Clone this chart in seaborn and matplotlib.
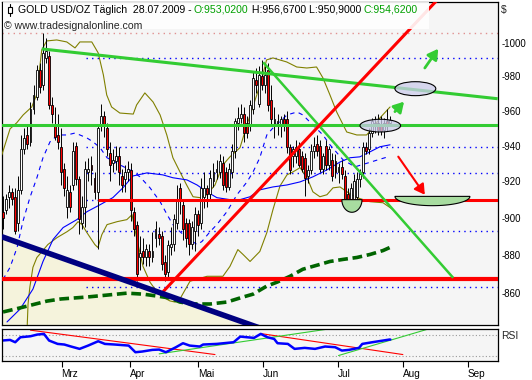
import numpy as np
import matplotlib
matplotlib.use('Agg')
import matplotlib.pyplot as plt
import matplotlib.ticker as ticker
from matplotlib.patches import Ellipse, Polygon, Rectangle
import seaborn as sns

# daily gold candles, bar 0 = 2 Feb 2009 ... last bar = 28 Jul 2009
opens = [910, 903, 904, 911, 914, 911, 897, 915, 938, 946, 942, 961, 968, 984, 975, 991, 992, 963, 951, 946,
         939, 927, 906, 914, 918, 940, 921, 897, 906, 925, 929, 922, 914, 951, 957, 950, 936, 930, 931, 934,
         923, 921, 925, 926, 903, 896, 879, 882, 879, 882, 879, 889, 891, 890, 876, 871, 884, 886, 897, 916,
         907, 897, 897, 886, 893, 902, 897, 911, 916, 913, 920, 925, 925, 930, 925, 917, 925, 937, 953, 956,
         958, 953, 952, 961, 978, 964, 980, 975, 984, 966, 952, 953, 952, 955, 955, 939, 934, 934, 938, 934,
         933, 923, 926, 937, 941, 940, 927, 940, 929, 932, 931, 925, 928, 923, 913, 910, 910, 911, 921, 925,
         939, 938, 947, 952, 953, 952, 949, 954, 953.02]
highs = [916, 912, 913, 918, 916, 916, 923, 946, 950, 952, 965, 975, 987, 988, 1006, 1003, 995, 968, 962, 958,
         950, 930, 923, 918, 942, 942, 923, 912, 931, 933, 934, 925, 952, 964, 960, 953, 942, 938, 940, 939,
         927, 929, 931, 930, 906, 898, 890, 889, 886, 886, 892, 898, 895, 893, 880, 888, 895, 902, 918, 919,
         910, 900, 899, 898, 906, 904, 922, 925, 918, 926, 930, 932, 935, 934, 928, 930, 941, 956, 962, 964,
         962, 957, 966, 983, 985, 986, 990, 986, 988, 975, 962, 958, 957, 958, 960, 941, 940, 943, 942, 937,
         936, 929, 941, 945, 946, 943, 936, 943, 940, 936, 935, 930, 932, 926, 916, 919, 924, 925, 927, 942,
         942, 950, 956, 957, 958, 957, 956, 961, 956.67]
lows = [898, 894, 902, 905, 907, 891, 893, 913, 935, 938, 940, 958, 966, 970, 972, 988, 961, 953, 943, 938,
        918, 912, 900, 903, 915, 918, 891, 894, 895, 920, 918, 910, 883, 948, 945, 934, 920, 925, 926, 918,
        914, 914, 920, 898, 890, 866, 872, 875, 874, 874, 876, 884, 885, 872, 866, 868, 880, 882, 894, 902,
        888, 884, 880, 883, 882, 890, 894, 905, 906, 910, 917, 921, 922, 915, 914, 915, 922, 933, 949, 953,
        942, 944, 948, 958, 970, 962, 972, 970, 960, 952, 944, 946, 945, 948, 936, 924, 928, 930, 928, 925,
        912, 919, 924, 933, 934, 925, 924, 926, 926, 920, 922, 919, 921, 906, 905, 906, 908, 909, 917, 922,
        935, 935, 945, 947, 946, 946, 944, 948, 950.90]
closes = [903, 900, 910, 914, 910, 893, 915, 938, 944, 941, 961, 969, 984, 974, 994, 995, 963, 958, 945, 942,
          925, 916, 915, 906, 937, 921, 899, 906, 927, 927, 926, 914, 950, 957, 951, 938, 929, 932, 934, 925,
          918, 925, 927, 904, 894, 870, 881, 879, 883, 879, 882, 894, 889, 875, 870, 885, 886, 899, 910, 910,
          894, 889, 886, 895, 902, 896, 916, 916, 913, 922, 925, 927, 931, 918, 917, 927, 937, 954, 956, 958,
          947, 947, 963, 979, 975, 981, 975, 981, 963, 955, 955, 954, 955, 952, 939, 926, 938, 939, 929, 927,
          922, 926, 937, 940, 937, 927, 934, 929, 938, 923, 925, 928, 924, 910, 910, 916, 920, 921, 924, 939,
          937, 947, 954, 953, 949, 948, 953, 951, 954.62]

# indicator lines as (bar, price) points
bb_upper_x = [0.6, 3.3, 5.5, 7.6, 10.4, 12.0, 13.7, 15.3, 18.6, 21.9, 24.6, 26.2, 30.1, 32.2, 33.9, 35.0, 36.6,
              39.3, 43.7, 44.8, 47.5, 50.2, 52.5, 54.7, 56.7, 59.0, 61.2, 63.3, 65.6, 67.8, 70.5, 73.1, 75.4,
              78.7, 81.3, 84.2, 86.2, 87.4, 89.5, 94.0, 97.3, 100.6, 103.8, 105.9, 108.2, 110.4, 113.7, 117.0,
              120.2, 122.3, 124.6, 127.9]
bb_upper_y = [934.7, 949.5, 953.0, 957.5, 962.1, 969.1, 995.8, 1001.2, 1001.8, 1000.6, 997.0, 1000.6, 1000.6,
              994.0, 980.9, 969.1, 962.1, 958.6, 958.0, 963.3, 970.3, 965.0, 957.5, 946.0, 933.1, 925.2, 917.9,
              911.4, 910.9, 912.5, 917.9, 929.1, 933.6, 938.8, 953.5, 969.1, 980.9, 989.8, 991.0, 988.6, 985.6,
              985.0, 985.6, 979.1, 969.1, 959.2, 947.7, 946.0, 946.0, 950.0, 955.8, 962.1]
bb_lower_x = [8.8, 9.2, 9.8, 10.8, 12.1, 13.8, 15.7, 18.7, 22.0, 23.9, 25.6, 26.9, 28.5, 31.1, 32.1, 33.4, 35.1,
              38.4, 41.6, 43.3, 44.9, 46.9, 49.2, 51.5, 53.4, 55.7, 57.4, 59.0, 62.3, 67.9, 73.1, 75.4, 78.0,
              79.7, 82.0, 85.2, 87.5, 89.5, 91.8, 94.1, 96.1, 98.4, 100.7, 102.6, 104.9, 107.2, 109.2, 111.5,
              113.8, 117.0, 121.3, 125.6, 128.9]
bb_lower_y = [838.0, 854.3, 863.1, 873.4, 878.6, 881.8, 885.5, 889.2, 892.4, 894.6, 897.8, 896.2, 891.9, 885.5,
              883.9, 890.8, 896.2, 897.8, 898.9, 901.6, 888.2, 873.9, 865.6, 860.5, 857.9, 855.9, 855.3, 856.9,
              866.1, 868.7, 868.7, 873.9, 882.8, 880.2, 876.5, 881.8, 891.9, 904.3, 917.3, 923.5, 925.2, 927.5,
              921.9, 914.1, 911.4, 912.5, 916.3, 916.8, 914.1, 910.9, 908.7, 908.1, 904.3]
ma_blue_x = [2.3, 6.6, 10.8, 14.1, 17.4, 20.7, 25.2, 28.5, 32.8, 37.0, 40.3, 43.6, 48.2, 53.4, 56.7, 61.3, 64.6,
             67.9, 71.1, 75.4, 78.7, 82.0, 85.2, 89.5, 94.1, 98.4, 102.6, 107.2, 111.5, 114.8, 118.0, 121.3,
             124.6, 127.9]
ma_blue_y = [845.1, 851.7, 862.0, 876.5, 888.2, 894.6, 898.9, 903.2, 907.0, 910.9, 916.3, 922.9, 924.6, 923.5,
             921.9, 920.7, 917.9, 914.1, 910.9, 909.8, 909.8, 911.4, 915.2, 916.8, 917.9, 919.6, 922.4, 926.3,
             930.7, 933.1, 933.6, 936.4, 939.3, 940.4]
ma_dash_x = [1.0, 3.3, 5.6, 7.5, 9.8, 12.1, 14.1, 16.4, 19.0, 22.0, 24.6, 26.2, 28.5, 30.5, 32.8, 35.1, 39.3,
             42.6, 45.9, 49.2, 52.5, 54.8, 56.7, 59.0, 61.3, 64.6, 66.2, 68.9, 71.1, 74.4, 77.7, 81.0, 83.0,
             85.2, 86.2, 87.5, 89.5, 94.1, 97.4, 99.3, 102.6, 105.9, 108.2, 112.5, 116.4, 120.7, 123.9, 127.2]
ma_dash_y = [867.1, 873.4, 883.9, 897.8, 910.9, 921.9, 933.1, 942.1, 946.0, 946.0, 947.1, 946.0, 944.3, 942.1,
             938.8, 933.1, 929.1, 926.3, 922.4, 916.3, 908.7, 901.6, 896.2, 892.4, 889.2, 885.5, 887.1, 892.4,
             896.2, 903.2, 912.5, 919.6, 925.2, 933.1, 938.8, 946.0, 950.0, 957.5, 959.2, 957.5, 951.7, 946.0,
             940.4, 931.9, 928.0, 930.2, 931.9, 933.6]
ma_long_x = [1.0, 6.6, 15.4, 20.0, 28.5, 35.1, 41.6, 46.9, 51.5, 55.7, 59.0, 63.3, 68.9, 74.4, 79.7, 83.0, 87.5,
             90.8, 95.1, 99.3, 103.9, 108.2, 112.5, 117.0, 121.3, 125.6, 128.5]
ma_long_y = [850.2, 852.3, 855.8, 856.9, 857.9, 858.9, 859.9, 859.4, 858.4, 857.4, 855.3, 854.3, 854.3, 855.3,
             857.9, 859.4, 863.6, 865.6, 868.7, 872.4, 874.5, 876.5, 877.6, 878.6, 880.2, 882.3, 884.4]

# RSI panel
rsi_x = [0.6, 3.3, 5.0, 6.7, 10.0, 12.2, 14.4, 16.1, 18.9, 21.1, 23.3, 26.1, 28.9, 32.2, 34.4, 37.7, 42.2, 44.4,
         46.6, 50.0, 52.2, 54.4, 57.7, 60.0, 62.2, 65.5, 66.6, 71.1, 76.6, 78.8, 81.0, 83.3, 85.5, 87.7, 89.9,
         91.0, 94.4, 96.6, 99.9, 103.3, 106.6, 109.9, 112.1, 114.4, 117.7, 118.8, 122.1, 127.7, 128.0]
rsi_y = [58.6, 59.8, 55.4, 64.9, 66.8, 70.0, 71.3, 58.6, 52.2, 51.0, 47.2, 42.7, 49.0, 57.3, 52.2, 51.0, 49.0,
         36.3, 37.6, 40.8, 41.4, 36.3, 45.9, 53.5, 49.0, 47.2, 51.0, 52.2, 55.4, 66.2, 64.9, 63.7, 71.3, 64.9,
         61.7, 53.5, 52.2, 42.7, 44.6, 42.7, 47.2, 45.9, 39.5, 40.8, 44.6, 52.2, 55.4, 60.5, 60.5]
rsi_red_lines = [((10.0, 78.4), (70.5, 31.9)), ((85.5, 71.9), (132.1, 31.9))]
rsi_green_lines = [((52.2, 33.2), (106.6, 79.7)), ((111.0, 30.0), (139.9, 79.7))]

# drawn trend lines and levels (bar, price)
green_level = 951.7
red_levels = [867.1, 909.8]
blue_dotted_levels = [990.9, 939.4, 924.6, 909.8, 892.6, 863.2]
pink_level = 1006.1
green_trend1 = ((13.7, 996.4), (163.2, 966.9))
green_trend2 = ((86.3, 988.4), (148.6, 867.9))
red_trend = ((53.5, 860.7), (143.5, 1026.5))
navy_trend = ((0.56, 889.7), (85.2, 842.0))

month_pos = [20.2, 42.5, 65.0, 86.3, 110.7, 132.1, 153.4]
month_lbl = ['Mrz', 'Apr', 'Mai', 'Jun', 'Jul', 'Aug', 'Sep']
price_ticks = [860, 880, 900, 920, 940, 960, 980, 1000]

sns.set_style('white')
plt.rcParams['font.family'] = ['Liberation Sans', 'DejaVu Sans']
plt.rcParams['font.size'] = 7.5

W, H = 532, 380
fig = plt.figure(figsize=(W / 100, H / 100), dpi=100)
fig.patch.set_facecolor('white')
ax = fig.add_axes([2 / W, 1 - 324.5 / H, 495.7 / W, 322.5 / H])
ax_rsi = fig.add_axes([2 / W, 1 - 361.3 / H, 495.7 / W, 32.8 / H])
x_lo, x_hi = 0.66, 163.2

ax.set_yscale('log')
ax.set_facecolor('#F5F5F5')
ax_rsi.set_facecolor('#F5F5F5')

# beige area under the long blue trend line
ax.fill_between([navy_trend[0][0], navy_trend[1][0]], [navy_trend[0][1], navy_trend[1][1]], 800,
                color='#F5F3DC', lw=0, zorder=1)

# dotted levels
ax.hlines(blue_dotted_levels, 28.2, x_hi, colors='#0000FF', lw=1, linestyles=(0, (1, 3)), zorder=2)
ax.axhline(pink_level, color='#E09090', lw=1, ls=(0, (1, 3)), zorder=2)

# bands and averages
sns.lineplot(x=bb_upper_x, y=bb_upper_y, ax=ax, color='#808000', lw=0.8, zorder=3)
sns.lineplot(x=bb_lower_x, y=bb_lower_y, ax=ax, color='#808000', lw=0.8, zorder=3)
sns.lineplot(x=ma_blue_x, y=ma_blue_y, ax=ax, color='#0000FF', lw=0.8, zorder=3)
ax.plot(ma_dash_x, ma_dash_y, color='#0000FF', lw=0.8, dashes=(4, 4), zorder=3)
ax.plot(ma_long_x, ma_long_y, color='#006400', lw=2.6, dashes=(2.7, 1.3), zorder=3)

# candles
o = np.array(opens, dtype=float)
h = np.array(highs, dtype=float)
l = np.array(lows, dtype=float)
c = np.array(closes, dtype=float)
xs = np.arange(len(c))
up = c >= o
body_lo = np.minimum(o, c)
body_h = np.maximum(np.abs(c - o), 0.5)
ax.vlines(xs, l, h, color='black', lw=0.7, zorder=4)
ax.bar(xs[up], body_h[up], bottom=body_lo[up], width=0.62, color='white', edgecolor='black', lw=0.6, zorder=5)
ax.bar(xs[~up], body_h[~up], bottom=body_lo[~up], width=0.62, color='#FF0000', edgecolor='black', lw=0.6, zorder=5)

# trend lines
ax.axhline(green_level, color='#33CC33', lw=2.2, zorder=6)
ax.axhline(red_levels[0], color='#FF0000', lw=3.0, zorder=6)
ax.hlines(red_levels[1], 32.2, x_hi, color='#FF0000', lw=2.2, zorder=6)
for (p0, p1), col, lw in [(green_trend1, '#33CC33', 2.2), (green_trend2, '#33CC33', 1.8),
                          (red_trend, '#FF0000', 2.2), (navy_trend, '#000080', 4.0)]:
    ax.plot([p0[0], p1[0]], [p0[1], p1[1]], color=col, lw=lw, solid_capstyle='butt', zorder=6)

# annotations
for cx, cy, w, hh in [(124.7, 951.35, 13.3, 7.3), (136.2, 972.8, 13.4, 8.2)]:
    ax.add_patch(Ellipse((cx, cy), w, hh, facecolor=(0.8, 0.8, 0.92, 0.75), edgecolor='black', lw=0.8, zorder=7))
t = np.linspace(0, np.pi, 40)
for cx, a, top, bot in [(115.4, 3.3, 909.8, 902.9), (141.8, 12.3, 911.6, 906.5)]:
    pts = np.column_stack([cx + a * np.cos(t), top - (top - bot) * np.sin(t)])
    ax.add_patch(Polygon(pts, closed=True, facecolor='#A8DCA0', edgecolor='black', lw=0.8, zorder=7))
arrow_kw = dict(arrowstyle='-|>,head_width=0.35,head_length=0.6', mutation_scale=10, shrinkA=0, shrinkB=0)
ax.annotate('', xy=(143.7, 996.5), xytext=(139.3, 985.0),
            arrowprops=dict(color='#33CC33', lw=2, **arrow_kw), zorder=7)
ax.annotate('', xy=(132.5, 965.2), xytext=(129.5, 959.4),
            arrowprops=dict(color='#33CC33', lw=2, **arrow_kw), zorder=7)
ax.annotate('', xy=(139.3, 912.5), xytext=(130.6, 933.7),
            arrowprops=dict(color='#FF0000', lw=1.5, **arrow_kw), zorder=7)

ax.set_xlim(x_lo, x_hi)
ax.set_ylim(843.8, 1025)
ax.yaxis.tick_right()
ax.yaxis.set_major_locator(ticker.FixedLocator(price_ticks))
ax.yaxis.set_minor_locator(ticker.NullLocator())
ax.yaxis.set_major_formatter(ticker.FuncFormatter(lambda v, _: f'-{v:.0f}'))
ax.tick_params(axis='y', length=0, pad=3, labelsize=6.9, colors='black')
ax.tick_params(axis='x', bottom=False, labelbottom=False)
ax.set_xlabel('')
ax.set_ylabel('')

# RSI
ax_rsi.axhline(70, color='#999999', lw=0.8, ls=(0, (1, 2)))
ax_rsi.axhline(30, color='#999999', lw=0.8, ls=(0, (1, 2)))
for (p0, p1) in rsi_red_lines:
    ax_rsi.plot([p0[0], p1[0]], [p0[1], p1[1]], color='#FF0000', lw=0.8)
for (p0, p1) in rsi_green_lines:
    ax_rsi.plot([p0[0], p1[0]], [p0[1], p1[1]], color='#33CC33', lw=0.8)
sns.lineplot(x=rsi_x, y=rsi_y, ax=ax_rsi, color='#0000FF', lw=1.8)
ax_rsi.set_xlim(x_lo, x_hi)
ax_rsi.set_ylim(19, 81.6)
ax_rsi.set_yticks([])
ax_rsi.set_xticks(month_pos)
ax_rsi.set_xticklabels(month_lbl)
ax_rsi.tick_params(axis='x', bottom=True, direction='out', length=4.5, width=0.8, pad=1, labelsize=7.2,
                   colors='black')
for lbl in ax_rsi.get_xticklabels():
    lbl.set_ha('left')
ax_rsi.set_xlabel('')
ax_rsi.set_ylabel('')

for a in (ax, ax_rsi):
    for s in a.spines.values():
        s.set_color('black')
        s.set_linewidth(0.9)
        s.set_visible(True)

# header
fig.add_artist(Rectangle((3 / W, 1 - 29 / H), 426 / W, 27 / H, transform=fig.transFigure,
                         facecolor='white', edgecolor='none', alpha=0.9, zorder=2))
fig.add_artist(Rectangle((8 / W, 1 - 13 / H), 4 / W, 6 / H, transform=fig.transFigure,
                         facecolor='white', edgecolor='black', lw=0.8, zorder=3))
fig.add_artist(plt.Line2D([10 / W, 10 / W], [1 - 16 / H, 1 - 4 / H], transform=fig.transFigure,
                          color='black', lw=0.8, zorder=2.5))
header_parts = [('GOLD USD/OZ Täglich  28.07.2009 - ', 'black'), ('O:953,0200', '#00A000'),
                (' H:956,6700 L:950,9000 ', 'black'), ('C:954,6200', '#00A000')]
renderer = fig.canvas.get_renderer()
xp = 17.5
for s, col in header_parts:
    tx = fig.text(xp / W, 1 - 10 / H, s, color=col, va='center', ha='left', fontsize=7.6, zorder=3)
    xp += tx.get_window_extent(renderer=renderer).width
fig.text(3.5 / W, 1 - 26 / H, '© www.tradesignalonline.com', va='center', ha='left', fontsize=7.6, zorder=3)
fig.text(501 / W, 1 - 10 / H, '$', va='center', ha='left', fontsize=7.5)
fig.text(501 / W, 1 - 336 / H, 'RSI', va='center', ha='left', fontsize=7.5)

fig.savefig('out.png', dpi=100)
